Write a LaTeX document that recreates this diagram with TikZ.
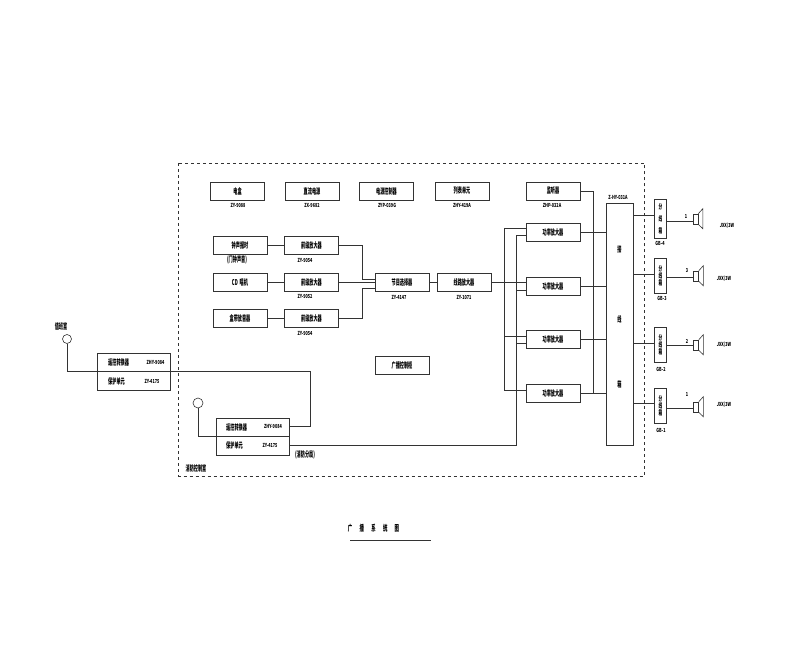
\documentclass[tikz,border=0pt]{standalone}
\usepackage{fontspec}
\setmainfont{Noto Sans CJK SC}
\usetikzlibrary{arrows.meta,positioning,shapes}
\tikzset{
  box/.style={draw=black!80,line width=.7pt,minimum width=54pt,minimum height=18pt,inner sep=0pt,
    font=\bfseries\fontsize{8}{9}\selectfont},
  tag/.style={inner sep=0pt,transform shape,xscale=.68,font=\bfseries\fontsize{5.5}{6}\selectfont},
  lbl/.style={inner sep=0pt,font=\bfseries\fontsize{8}{9}\selectfont},
  wire/.style={draw=black!80,line width=.7pt},
  tap/.style={circle,draw=black!80,line width=.6pt,minimum size=9pt,inner sep=0pt},
  split/.style={draw=black!80,line width=.7pt,minimum width=11.5pt,minimum height=35pt,inner sep=0pt},
  horn/.style={draw=black!80,line width=.6pt,minimum width=5pt,minimum height=10pt,inner sep=0pt},
}
\newcommand{\narrow}[1]{\scalebox{.52}[1]{#1}}
\begin{document}
\begin{tikzpicture}[x=1pt,y=-1pt]
\useasboundingbox (0,0) rectangle (800,652);
\draw[black!80,dashed,line width=.6pt] (178.5,163) rectangle (644,476);
% top row
\node[box] (dn) at (237.5,191) {\narrow{电盒}};
\node[tag] (dnt) at (238,205) {ZY-9088};
\node[box] (zl) at (312,191) {\narrow{直流电源}};
\node[tag] (zlt) at (312,205) {ZX-9682};
\node[box] (dy) at (386.5,191) {\narrow{电源控制器}};
\node[tag] (dyt) at (387,205) {ZYP-039G};
\node[box] (lb) at (462,191) {\narrow{列表单元}};
\node[tag] (lbt) at (462,205) {ZHY-419A};
\node[box] (jt) at (553,191) {\narrow{监听器}};
\node[tag] (jtt) at (552,205) {ZHP-032A};
% sources
\node[box] (s1) at (240,245.5) {\narrow{钟声报时}};
\node[lbl] (s1t) at (237,260) {\narrow{(门钟声音)}};
\node[box] (s2) at (240,282.5) {\narrow{CD\ \ 唱机}};
\node[box] (s3) at (240,318) {\narrow{盒带放音器}};
\node[box] (f1) at (311.5,245.5) {\narrow{前级放大器}};
\node[tag] (f1t) at (305,260) {ZY-9054};
\node[box] (f2) at (311.5,282.5) {\narrow{前级放大器}};
\node[tag] (f2t) at (305,296) {ZY-9052};
\node[box] (f3) at (311.5,318) {\narrow{前级放大器}};
\node[tag] (f3t) at (305,333) {ZY-9054};
\node[box] (jm) at (402,282.5) {\narrow{节目选择器}};
\node[tag] (jmt) at (399,297) {ZY-4147};
\node[box] (xl) at (464,282.5) {\narrow{线路放大器}};
\node[tag] (xlt) at (464,297) {ZY-1071};
\node[box] (kz) at (402,365) {\narrow{广播控制柜}};
% power amps
\node[box] (a1) at (553,232) {\narrow{功率放大器}};
\node[box] (a2) at (553,286) {\narrow{功率放大器}};
\node[box] (a3) at (553,339.5) {\narrow{功率放大器}};
\node[box] (a4) at (553,393) {\narrow{功率放大器}};
\node[box,minimum width=27pt,minimum height=242pt] (jx) at (619.5,324) {};
\node[lbl] (jx1) at (619.5,249) {\narrow{接}};
\node[lbl] (jx2) at (619.5,319) {\narrow{线}};
\node[lbl] (jx3) at (619.5,384) {\narrow{箱}};
\node[tag] (jxt) at (618,197) {Z-HY-031A};
% remote units
\node[box,minimum width=73pt,minimum height=37pt] (r1) at (133.5,371.5) {};
\node[box,minimum width=73pt,minimum height=37pt] (r2) at (252.5,436.5) {};
\node[lbl,anchor=west] (r1a) at (108,362) {\narrow{遥控转换器}};
\node[tag] (r1b) at (155.5,362) {ZHY-9084};
\node[lbl,anchor=west] (r1c) at (108,381) {\narrow{保护单元}};
\node[tag] (r1d) at (152,381) {ZY-4175};
\node[lbl,anchor=west] (r2a) at (226,427) {\narrow{遥控转换器}};
\node[tag] (r2b) at (273,426) {ZHY-9084};
\node[lbl,anchor=west] (r2c) at (226,445) {\narrow{保护单元}};
\node[tag] (r2d) at (270,445) {ZY-4175};
\node[lbl] (r2e) at (305,455) {\narrow{(消防分局)}};
\node[tap] (c1) at (67,339) {};
\node[tap,minimum size=10pt] (c2) at (198,403) {};
\node[lbl] (c1t) at (61,326) {\narrow{值班室}};
\node[lbl] (room) at (196,468) {\narrow{消防控制室}};
% splitters
\foreach \n/\yy/\hh/\gap in {4/218.5/39/5,3/275.5/35/0,2/344.5/35/0,1/405.5/35/0}{
  \node[split,minimum height=\hh pt] (b\n) at (660.5,\yy) {};
  \node[inner sep=0pt,align=center,font=\bfseries\fontsize{7}{7}\selectfont] (b\n t) at (660.5,\yy) {\narrow{分}\\[\gap pt]\narrow{线}\\[\gap pt]\narrow{箱}};
}
\node[tag] (g4) at (660,243) {GB-4};
\node[tag] (g3) at (662,298) {GB-3};
\node[tag] (g2) at (661,369) {GB-2};
\node[tag] (g1) at (661,430) {GB-1};
% speakers
\foreach \n/\hx/\yy/\wy/\cnt/\lx/\ly in {4/695.5/219/221/1/686/217,3/696/276/277/3/687/271,2/696/345/345/2/687/341,1/696/407/408/1/687/395}{
  \node[horn] (h\n) at (\hx,\yy) {};
  \draw[black!80,line width=.6pt] (h\n.north east) -- ++(4.5,-5) -- ++(0,20) -- (h\n.south east);
  \draw[wire] (b\n.east |- 0,\wy) -- (h\n.west |- 0,\wy);
  \node[tag] (n\n) at (\lx,\ly) {\cnt};
}
\node[tag] (w4) at (727,226) {JXX/3W};
\node[tag] (w3) at (724,279) {JXX/3W};
\node[tag] (w2) at (724,345) {JXX/3W};
\node[tag] (w1) at (724,405) {JXX/3W};
% wires
\draw[wire] (s1) -- (f1);
\draw[wire] (s2) -- (f2);
\draw[wire] (s3) -- (f3);
\draw[wire] (f2) -- (jm);
\draw[wire] (f1.east) -- (362,245.5) -- (362,279) -- (375,279);
\draw[wire] (f3.east) -- (362,318) -- (362,288) -- (375,288);
\draw[wire] (jm) -- (xl);
\draw[wire] (xl.east) -- (a2.west |- xl.east);
\draw[wire] (504,228) -- (526,228);
\draw[wire] (504,228) -- (504,390) -- (526,390);
\draw[wire] (504,336) -- (526,336);
\draw[wire] (r2.east |- 0,445) -- (516,445) -- (516,235) -- (526,235);
\draw[wire] (516,290) -- (526,290);
\draw[wire] (516,343) -- (526,343);
\draw[wire] (jt.east) -- (593.5,191) -- (593.5,394);
\draw[wire] (a1) -- (a1 -| jx.west);
\draw[wire] (a2) -- (a2 -| jx.west);
\draw[wire] (a3) -- (a3 -| jx.west);
\draw[wire] (a4) -- (a4 -| jx.west);
\draw[wire] (jx.east |- 0,215) -- (654.75,215);
\draw[wire] (jx.east |- 0,274) -- (654.75,274);
\draw[wire] (jx.east |- 0,343) -- (654.75,343);
\draw[wire] (jx.east |- 0,403) -- (654.75,403);
\draw[wire] (c1) -- (67,371) -- (310,371) -- (310,426) -- (289,426);
\draw[wire] (c2) -- (198,436) -- (216,436);
\draw[wire] (216,436) -- (289,436);
\draw[black!80,line width=.7pt] (350,540) -- (431,540);
\node[inner sep=0pt,font=\bfseries\fontsize{8.5}{9}\selectfont] (title) at (373.5,528) {\narrow{广}\hspace{7.3pt}\narrow{播}\hspace{7.3pt}\narrow{系}\hspace{7.3pt}\narrow{统}\hspace{7.3pt}\narrow{图}};
\end{tikzpicture}
\end{document}
